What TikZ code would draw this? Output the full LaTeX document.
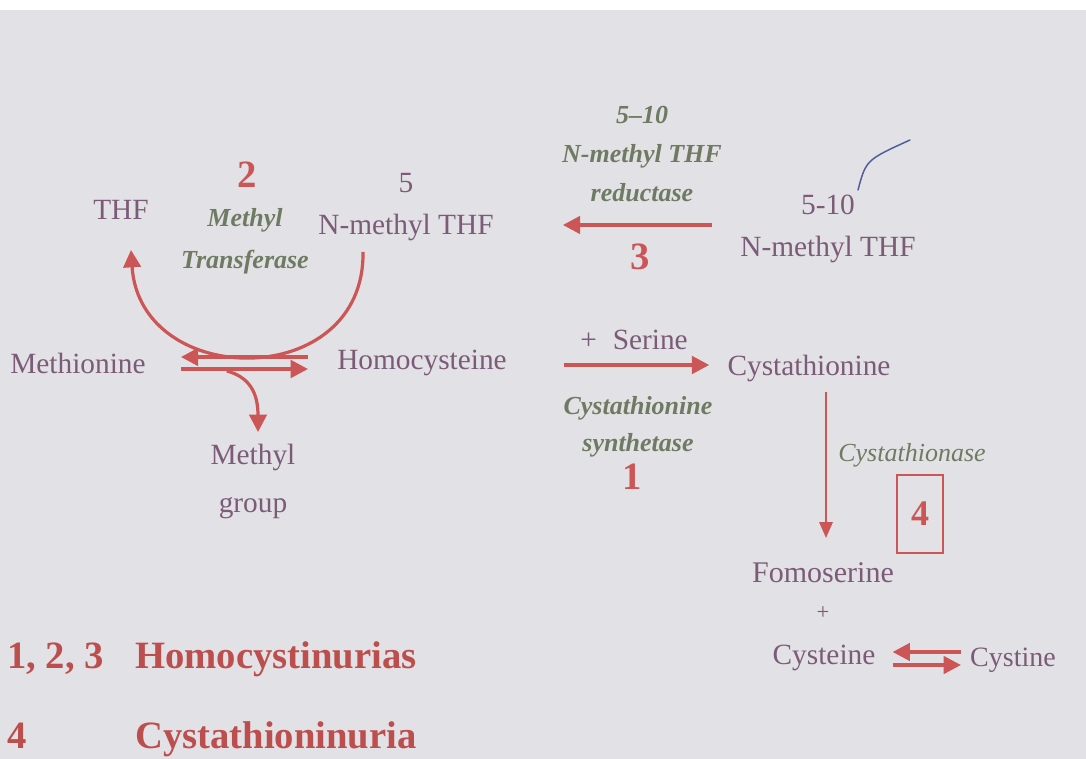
\documentclass[tikz,border=0pt]{standalone}
\usepackage{fontspec}
\setmainfont{Liberation Serif}
\usetikzlibrary{arrows.meta}
\definecolor{cmpd}{HTML}{7B5B77}
\definecolor{enzg}{HTML}{6E7B62}
\definecolor{redd}{HTML}{CC5555}
\definecolor{paper}{HTML}{E2E1E5}
\definecolor{pen}{HTML}{4E5C9C}
\begin{document}
\begin{tikzpicture}[x=0.75pt,y=-0.75pt, cmp/.style={text=cmpd,inner sep=0pt,align=center,font=\fontsize{22}{32}\selectfont}, enz/.style={text=enzg,inner sep=0pt,align=center,font=\fontsize{19.5}{29}\selectfont\bfseries\itshape}, num/.style={text=redd,inner sep=0pt,font=\fontsize{29}{34}\selectfont\bfseries}, rxn/.style={draw=redd,line width=2.8pt,-{Triangle[length=13pt,width=13pt]}}, leg/.style={text=redd!92!black,inner sep=0pt,anchor=base west,font=\fontsize{29}{34}\selectfont\bfseries}]
\fill[paper] (0,0) rectangle (1086,759);
\fill[white] (0,0) rectangle (1086,10);
\node[cmp] (thf) at (121,210) {THF};
\node[num] (n2) at (247,175) {2};
\node[enz] (mt) at (245,241) {Methyl\\[2.5pt]Transferase};
\node[cmp] (nthf) at (406,207) {5\\N-methyl THF};
\node[enz] (red) at (642,154) {5--10\\N-methyl THF\\reductase};
\node[num] (n3) at (640,257) {3};
\node[cmp] (mthf) at (828,229) {5-10\\N-methyl THF};
\node[cmp] (met) at (78,363) {Methionine};
\node[cmp] (hcy) at (422,363) {Homocysteine};
\node[cmp] (ser) at (634,340) {+\hspace{12pt}Serine};
\node[cmp] (cysta) at (809,368) {Cystathionine};
\node[enz] (syn) at (638,427) {Cystathionine\\[-1pt]synthetase};
\node[num] (n1) at (632,477) {1};
\node[cmp] (mg) at (253,481) {Methyl\\[4pt]group};
\node[enz, font=\fontsize{19.5}{24}\selectfont\itshape] (case) at (912,455) {Cystathionase};
\node[num, draw=redd, line width=1.3pt, font=\fontsize{27}{32}\selectfont\bfseries, minimum width=34.5pt, minimum height=58.5pt] (n4) at (920,514) {4};
\node[cmp, font=\fontsize{22.5}{32}\selectfont] (fom) at (823,573) {Fomoserine};
\node[cmp, font=\fontsize{17}{20}\selectfont] (plus) at (823,613) {+};
\node[cmp] (cys) at (824,658) {Cysteine};
\node[cmp, font=\fontsize{21}{30}\selectfont] (cyst) at (1013,660) {Cystine};
\node[leg] (l1) at (7,668) {1, 2, 3};
\node[leg] (l1t) at (135,668) {Homocystinurias};
\node[leg] (l2) at (7,748) {4};
\node[leg] (l2t) at (135,748) {Cystathioninuria};
\draw[rxn, line width=2.4pt] ([shift={(-43,45)}]nthf.center) .. controls +(2,140) and +(9,140) .. ([shift={(10,40)}]thf.center);
\draw[rxn] ([shift={(-29,-6)}]hcy.west) -- ([shift={(35,-6)}]met.east);
\draw[rxn] ([shift={(35,6)}]met.east) -- ([shift={(-29,6)}]hcy.west);
\draw[rxn, line width=2.4pt] ([shift={(81,8)}]met.east) .. controls +(22,6) and +(0,-40) .. ([shift={(5,-49)}]mg.center);
\draw[rxn] ([shift={(-28,-4)}]mthf.west) -- ([shift={(69,18)}]nthf.east);
\draw[rxn] ([shift={(57,2)}]hcy.east) -- ([shift={(-18,-3)}]cysta.west);
\draw[draw=redd, line width=1.6pt, -{Triangle[length=12pt,width=10pt]}] ([shift={(17,24)}]cysta.center) -- ([shift={(3,-35)}]fom.center);
\draw[rxn, line width=2.6pt] ([shift={(-9,-8)}]cyst.west) -- ([shift={(17,-6)}]cys.east);
\draw[rxn, line width=2.6pt] ([shift={(17,7)}]cys.east) -- ([shift={(-9,5)}]cyst.west);
\draw[pen, line width=1.1pt, line cap=round] (858,190) .. controls (866,160) .. (910,140);
\end{tikzpicture}
\end{document}
